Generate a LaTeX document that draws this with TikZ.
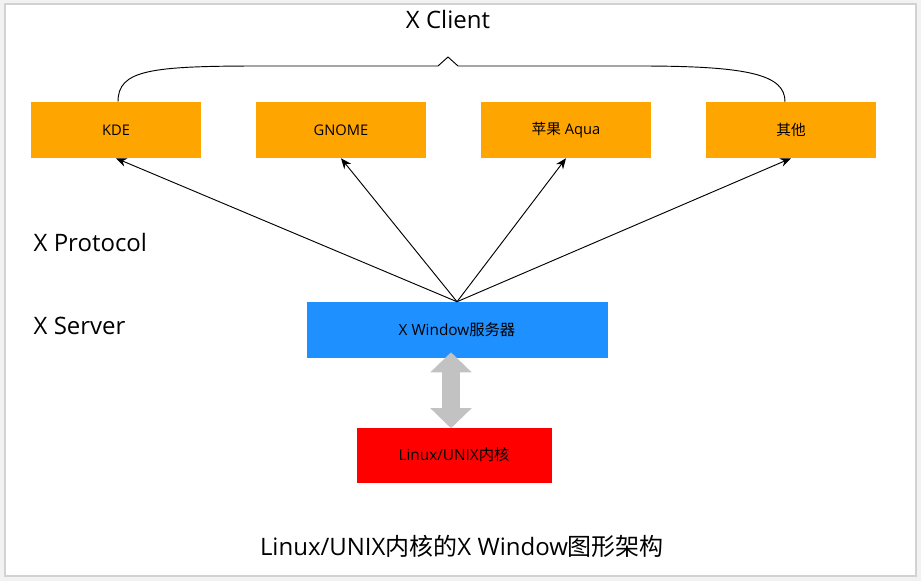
\documentclass[tikz,border=0pt]{standalone}
\usepackage{fontspec}
\setmainfont{Open Sans}
\newfontfamily\cjk{Noto Sans CJK SC}
\usetikzlibrary{arrows.meta, calc, positioning}

\definecolor{clientor}{HTML}{FFA500}
\definecolor{serverbl}{HTML}{1E90FF}
\definecolor{kernred}{HTML}{FF0000}
\definecolor{dblgray}{HTML}{C2C2C2}

\tikzset{
    client/.style={fill=clientor, minimum width=127.5pt, minimum height=42pt, inner sep=0pt, font=\fontsize{11}{13}\selectfont},
    bigtext/.style={font=\fontsize{18}{21}\selectfont},
    proto/.style={-{Stealth[length=8pt, width=6.5pt]}, line width=0.7pt},
    dblarrow/.style={draw=dblgray, line width=13.5pt, {Triangle[length=15pt, width=30pt]}-{Triangle[length=15pt, width=30pt]}}
}

\begin{document}
\begin{tikzpicture}[x=0.75pt, y=-0.75pt]
    \useasboundingbox (0, 0) rectangle (921, 581);
    \fill[gray!10] (0, 0) rectangle (921, 581);
    \draw[gray!35, fill=white, line width=1pt] (5, 4) rectangle (916, 576);

    \foreach \n/\x/\t in {kde/116/KDE, gnome/341/GNOME, aqua/566/{{\cjk 苹果} Aqua}, other/791/{\cjk 其他}} {
        \node[client] (\n) at (\x, 130) {\t};
    }

    \node[fill=serverbl, minimum width=225.75pt, minimum height=42pt, inner sep=0pt, font=\fontsize{11.5}{13}\selectfont] (srv) at (457, 330) {X Window{\cjk 服务器}};
    \node[fill=kernred, minimum width=146.25pt, minimum height=41.25pt, inner sep=0pt, font=\fontsize{11.5}{13}\selectfont] (kern) at (454, 455) {Linux/UNIX{\cjk 内核}};

    \node[bigtext] (xclient) at (448, 20) {X Client};
    \node[bigtext, anchor=west] (xproto) at (29, 243) {X Protocol};
    \node[bigtext, anchor=west] (xserver) at (29, 326) {X Server};
    \node[bigtext] (title) at (462, 546) {Linux/UNIX{\cjk 内核的}X Window{\cjk 图形架构}};

    \draw[line width=0.7pt]
    ($(kde.north) + (2, 0)$) .. controls (118, 70) and (150, 66) .. (260, 66) -- (438, 66) -- (448, 57) -- (458, 66) -- (640, 66) .. controls (750, 66) and (785, 75) .. ($(other.north) + (-6, 0)$);

    \draw[dblarrow] ($(srv.south) + (-6, -6)$) -- ($(kern.north) + (-3, 1)$);

    \foreach \n in {kde, gnome, aqua, other} {
        \draw[proto] (srv.north) -- (\n.south);
    }
\end{tikzpicture}
\end{document}
